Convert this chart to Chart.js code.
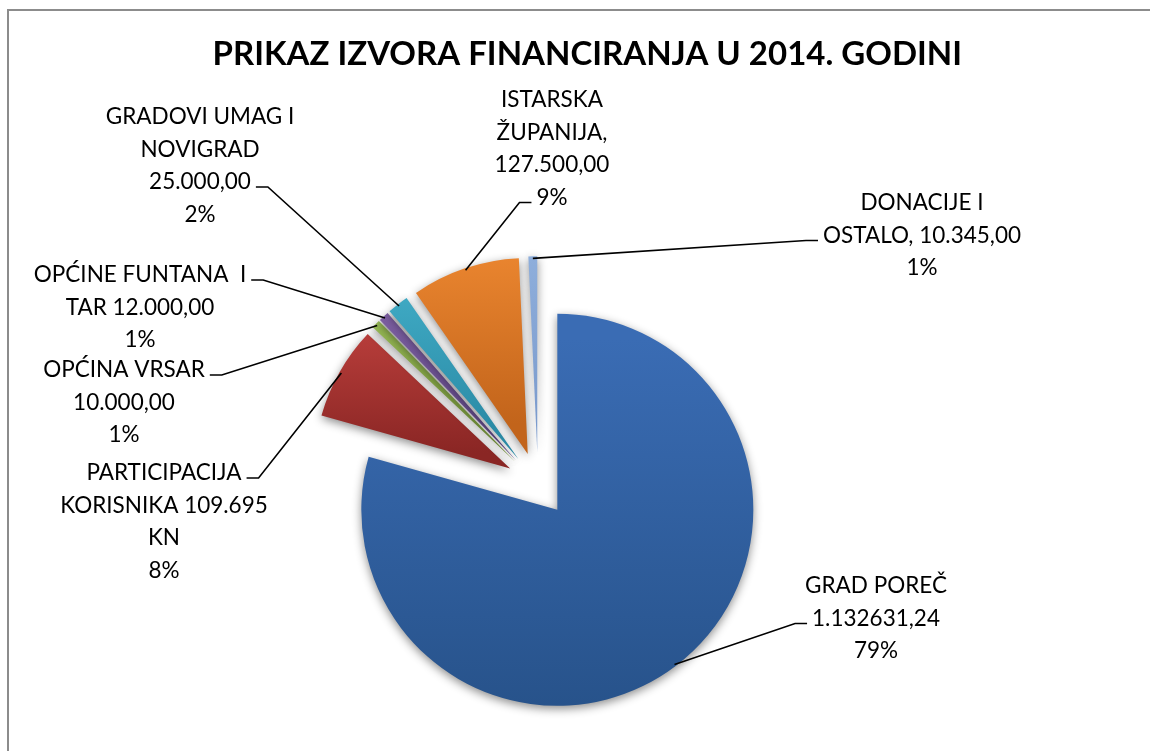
<!DOCTYPE html>
<html>
<head>
<meta charset="utf-8">
<title>Prikaz izvora financiranja u 2014. godini</title>
<script src="https://cdn.jsdelivr.net/npm/chart.js@4.4.1/dist/chart.umd.min.js"></script>
<style>
  html, body { margin: 0; padding: 0; background: #fff; overflow: hidden; }
</style>
</head>
<body>
<canvas id="myChart" width="1150" height="751"></canvas>
<script>
var sources = ['GRAD POREČ', 'PARTICIPACIJA KORISNIKA', 'OPĆINA VRSAR', 'OPĆINE FUNTANA I TAR',
  'GRADOVI UMAG I NOVIGRAD', 'ISTARSKA ŽUPANIJA', 'DONACIJE I OSTALO'];
var amounts = [1132631.24, 109695, 10000, 12000, 25000, 127500, 10345];

// data label text as it is wrapped on the chart (percent line is added later)
var labelLines = [
  ['GRAD POREČ', '1.132631,24'],
  ['PARTICIPACIJA', 'KORISNIKA 109.695', 'KN'],
  ['OPĆINA VRSAR', '10.000,00'],
  ['OPĆINE FUNTANA  I', 'TAR 12.000,00'],
  ['GRADOVI UMAG I', 'NOVIGRAD', '25.000,00'],
  ['ISTARSKA', 'ŽUPANIJA,', '127.500,00'],
  ['DONACIJE I', 'OSTALO, 10.345,00']
];

var lightColors = ['#3a6cb4', '#bd403d', '#9dc05a', '#8364a8', '#42aec8', '#f08a32', '#92b2de'];
var darkColors = ['#265188', '#8a2624', '#76963a', '#5d4583', '#2a8aa5', '#c2641b', '#7b9bcd'];

// where each data label sits, and which text line the leader line goes to
var labelPos = [
  {x: 876, y: 586, line: 1, side: 'left'},
  {x: 164, y: 473, line: 0, side: 'right'},
  {x: 124, y: 370, line: 0, side: 'right'},
  {x: 140, y: 275, line: 0, side: 'right'},
  {x: 200, y: 117, line: 2, side: 'right'},
  {x: 552, y: 100, line: 3, side: 'left'},
  {x: 922, y: 203, line: 1, side: 'left'}
];

var explode = 32;

class ExplodedPieController extends Chart.PieController {
  draw() {
    var ctx = this.chart.ctx;
    var arcs = this._cachedMeta.data;
    arcs.forEach(function (arc, i) {
      var mid = (arc.startAngle + arc.endAngle) / 2;
      var dx = Math.cos(mid) * explode;
      var dy = Math.sin(mid) * explode;
      var top = arc.y + dy, bottom = arc.y + dy;
      for (var a = arc.startAngle; a <= arc.endAngle; a += 0.005) {
        var yy = arc.y + dy + Math.sin(a) * arc.outerRadius;
        top = Math.min(top, yy);
        bottom = Math.max(bottom, yy);
      }
      var yEnd = arc.y + dy + Math.sin(arc.endAngle) * arc.outerRadius;
      top = Math.min(top, yEnd);
      bottom = Math.max(bottom, yEnd);
      var grad = ctx.createLinearGradient(0, top, 0, bottom);
      grad.addColorStop(0, lightColors[i]);
      grad.addColorStop(1, darkColors[i]);
      var saved = arc.options;
      arc.options = Object.assign({}, saved, {backgroundColor: grad});
      ctx.save();
      ctx.translate(dx, dy);
      ctx.shadowColor = 'rgba(0,0,0,0.45)';
      ctx.shadowBlur = 10;
      ctx.shadowOffsetY = 3;
      arc.draw(ctx);
      ctx.restore();
      arc.options = saved;
    });
  }
}
ExplodedPieController.id = 'explodedPie';
ExplodedPieController.defaults = Chart.PieController.defaults;
Chart.register(ExplodedPieController);

var framePlugin = {
  id: 'frame',
  beforeDraw: function (chart) {
    var ctx = chart.ctx;
    ctx.save();
    ctx.fillStyle = '#ffffff';
    ctx.fillRect(0, 0, chart.width, chart.height);
    ctx.fillStyle = '#8c8c8c';
    ctx.fillRect(7, 9, chart.width - 7, 2);
    ctx.fillRect(7, 9, 2, chart.height - 9);
    ctx.restore();
  }
};

var labelPlugin = {
  id: 'pieLabels',
  afterDatasetsDraw: function (chart) {
    var ctx = chart.ctx;
    var arcs = chart.getDatasetMeta(0).data;
    var total = amounts.reduce(function (s, v) { return s + v; }, 0);
    var lineH = 32.5;
    ctx.save();
    ctx.font = '22.5px Lato';
    ctx.fillStyle = '#000';
    ctx.strokeStyle = '#000';
    ctx.lineWidth = 1.6;
    ctx.textAlign = 'center';
    ctx.textBaseline = 'middle';
    arcs.forEach(function (arc, i) {
      var pos = labelPos[i];
      var lines = labelLines[i].concat([Math.round(amounts[i] / total * 100) + '%']);
      lines.forEach(function (t, k) {
        ctx.fillText(t, pos.x, pos.y + k * lineH);
      });
      var mid = (arc.startAngle + arc.endAngle) / 2;
      var r = arc.outerRadius + explode - 2;
      var px = arc.x + Math.cos(mid) * r;
      var py = arc.y + Math.sin(mid) * r;
      var w = ctx.measureText(lines[pos.line]).width;
      var ly = pos.y + pos.line * lineH + 5;
      var ex, sx;
      if (pos.side === 'left') {
        ex = pos.x - w / 2 - 5;
        sx = ex - 12;
      } else {
        ex = pos.x + w / 2 + 5;
        sx = ex + 12;
      }
      ctx.beginPath();
      ctx.moveTo(px, py);
      ctx.lineTo(sx, ly);
      ctx.lineTo(ex, ly);
      ctx.stroke();
    });
    ctx.restore();
  }
};

new Chart(document.getElementById('myChart'), {
  type: 'explodedPie',
  data: {
    labels: sources,
    datasets: [{
      data: amounts,
      backgroundColor: lightColors,
      borderWidth: 0,
      radius: 196,
      clip: false
    }]
  },
  options: {
    responsive: false,
    animation: false,
    events: [],
    layout: {
      padding: {left: 114, right: 188, top: 0, bottom: 0}
    },
    plugins: {
      legend: {display: false},
      tooltip: {enabled: false},
      title: {
        display: true,
        text: 'PRIKAZ IZVORA FINANCIRANJA U 2014. GODINI',
        align: 'end',
        color: '#000',
        font: {family: 'Lato', size: 33, weight: 'bold'},
        padding: {top: 35, bottom: 143}
      }
    }
  },
  plugins: [framePlugin, labelPlugin]
});
</script>
</body>
</html>
